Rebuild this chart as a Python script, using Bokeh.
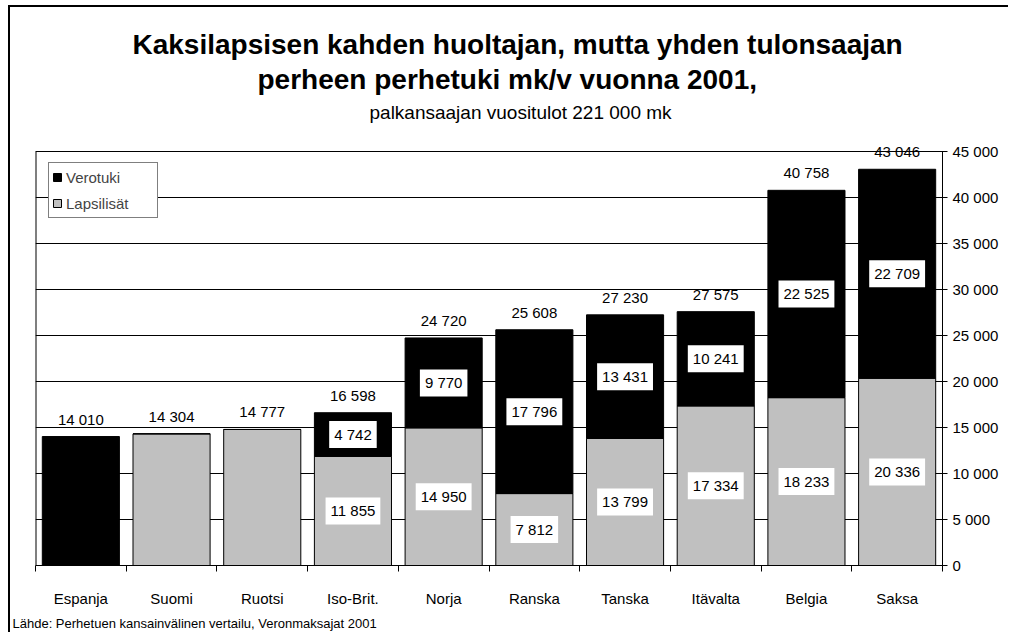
import numpy as np
from bokeh.plotting import figure
from bokeh.models import (ColumnDataSource, Range1d, FixedTicker, Label, Legend,
                          LegendItem, Title)
from bokeh.embed import file_html
from bokeh.resources import INLINE

# ---- data ----
maat = ["Espanja", "Suomi", "Ruotsi", "Iso-Brit.", "Norja", "Ranska",
        "Tanska", "Itävalta", "Belgia", "Saksa"]
lapsilisat = [0, 14304, 14777, 11855, 14950, 7812, 13799, 17334, 18233, 20336]
verotuki = [14010, 0, 0, 4742, 9770, 17796, 13431, 10241, 22525, 22709]
yhteensa = [14010, 14304, 14777, 16598, 24720, 25608, 27230, 27575, 40758, 43046]
y_ticks = [0, 5000, 10000, 15000, 20000, 25000, 30000, 35000, 40000, 45000]

otsikko1 = "Kaksilapsisen kahden huoltajan, mutta yhden tulonsaajan"
otsikko2 = "perheen perhetuki mk/v vuonna 2001,"
alaotsikko = "palkansaajan vuositulot 221 000 mk"
lahde = "Lähde: Perhetuen kansainvälinen vertailu, Veronmaksajat 2001"

FONT = "Liberation Sans"
GREY = "#C0C0C0"
Y_MAX = y_ticks[-1]


def fmt(v):
    return f"{v:,}".replace(",", " ")


x = list(np.arange(len(maat)) + 0.5)

src = ColumnDataSource(dict(x=x, maa=maat, Lapsilisät=lapsilisat, Verotuki=verotuki))

p = figure(width=1000, height=627, output_backend="svg", toolbar_location=None,
           x_range=Range1d(0, len(maat)), y_range=Range1d(0, Y_MAX * 1.026),
           y_axis_location="right",
           min_border_left=25, min_border_right=68, min_border_top=133, min_border_bottom=69,
           outline_line_color=None,
           background_fill_color="white", border_fill_color="white")
p.styles = {"border-left": "2px solid black", "border-top": "2px solid black",
            "margin-left": "8px", "margin-top": "5px"}

# left border of the plot area
p.segment(x0=[0], y0=[0], x1=[0], y1=[Y_MAX], line_color="black", line_width=2)

rs = p.vbar_stack(["Lapsilisät", "Verotuki"], x="x", width=0.85, source=src,
                  color=[GREY, "black"], line_color="black", line_width=1)

# inner segment labels (only for bars with both segments)
for i in range(len(maat)):
    if lapsilisat[i] > 0 and verotuki[i] > 0:
        for yv, v in ((lapsilisat[i] / 2, lapsilisat[i]),
                      (lapsilisat[i] + verotuki[i] / 2, verotuki[i])):
            p.add_layout(Label(x=x[i], y=yv, text=fmt(v), text_align="center",
                               text_baseline="middle", text_font=FONT,
                               text_font_size="15px", text_color="black",
                               background_fill_color="white", padding=5))

# totals above bars
for xi, tot in zip(x, yhteensa):
    p.add_layout(Label(x=xi, y=tot, text=fmt(tot), text_align="center",
                       text_baseline="bottom", y_offset=9, text_font=FONT,
                       text_font_size="15px", text_color="black"))

# axes
p.xaxis.ticker = FixedTicker(ticks=x, minor_ticks=list(range(len(maat) + 1)))
p.xaxis.major_label_overrides = {xv: m for xv, m in zip(x, maat)}
p.xaxis.major_tick_out = 0
p.xaxis.major_tick_in = 0
p.xaxis.minor_tick_out = 6
p.xaxis.minor_tick_in = 0
p.xaxis.minor_tick_line_color = "black"
p.xaxis.axis_line_color = "black"
p.xaxis.major_label_standoff = 18
p.xaxis.major_label_text_font = FONT
p.xaxis.major_label_text_font_size = "15px"
p.xaxis.major_label_text_color = "black"

p.yaxis.ticker = FixedTicker(ticks=y_ticks)
p.yaxis.bounds = (0, Y_MAX)
p.yaxis.major_label_overrides = {t: fmt(t) for t in y_ticks}
p.yaxis.major_tick_in = 4
p.yaxis.major_tick_out = 5
p.yaxis.minor_tick_line_color = None
p.yaxis.axis_line_color = "black"
p.yaxis.major_tick_line_color = "black"
p.yaxis.major_label_standoff = 5
p.yaxis.major_label_text_font = FONT
p.yaxis.major_label_text_font_size = "15px"
p.yaxis.major_label_text_color = "black"

p.xgrid.grid_line_color = None
p.ygrid.grid_line_color = "black"
p.ygrid.grid_line_alpha = 1

legend = Legend(items=[LegendItem(label="Verotuki", renderers=[rs[1]]),
                       LegendItem(label="Lapsilisät", renderers=[rs[0]])],
                location=(13, 347), margin=0, padding=3, spacing=4,
                label_height=22, label_width=88, glyph_width=10, glyph_height=10,
                label_standoff=4, label_text_font=FONT, label_text_font_size="15px",
                border_line_color="black", border_line_width=1,
                background_fill_color="white", background_fill_alpha=1)
p.add_layout(legend)

# titles (first added = closest to the plot)
p.add_layout(Title(text=" ", text_font_size="1px", standoff=11), "above")
p.add_layout(Title(text=alaotsikko, align="left", text_font=FONT, text_font_size="19px",
                   text_font_style="normal", text_color="black", standoff=8,
                   offset=334), "above")
p.add_layout(Title(text=otsikko2, align="left", text_font=FONT, text_font_size="28px",
                   text_font_style="bold", text_color="black", standoff=2,
                   offset=222), "above")
p.add_layout(Title(text=otsikko1, align="left", text_font=FONT, text_font_size="28px",
                   text_font_style="bold", text_color="black", standoff=1,
                   offset=97), "above")
p.add_layout(Title(text=lahde, align="left", text_font=FONT, text_font_size="13px",
                   text_font_style="normal", text_color="black", offset=-23, standoff=8),
             "below")

open("out.html", "w").write(file_html(p, INLINE))
